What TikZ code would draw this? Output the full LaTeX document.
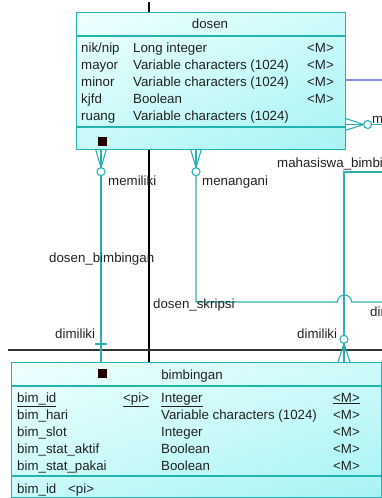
\documentclass[tikz,border=0pt]{standalone}
\usepackage{fontspec}
\usetikzlibrary{shadings}
\setmainfont{Liberation Sans}
\definecolor{boxc}{HTML}{22B5B0}
\definecolor{relc}{HTML}{2AB0B0}
\definecolor{txtc}{HTML}{222222}
\definecolor{bluel}{HTML}{8888F8}
\definecolor{keyc}{HTML}{220000}
\definecolor{shUL}{HTML}{F0FFFF}
\definecolor{shUR}{HTML}{CDFAFA}
\definecolor{shLL}{HTML}{C8F9F9}
\definecolor{shLR}{HTML}{A8F3F3}
\begin{document}
\begin{tikzpicture}[x=1pt,y=-1pt,
  font=\fontsize{13.3}{15}\selectfont,
  entity/.style={draw=boxc, line width=1.3pt, inner sep=0pt, anchor=north west,
    upper left=shUL, upper right=shUR, lower left=shLL, lower right=shLR},
  sep/.style={draw=boxc, line width=1.3pt},
  rel/.style={draw=relc, line width=1.1pt},
  lbl/.style={inner sep=0pt, anchor=mid west, text=txtc, yshift=-2.5pt},
  ttl/.style={inner sep=0pt, anchor=mid, text=txtc, yshift=-2.5pt},
  keysq/.style={fill=keyc, draw=none, minimum size=9pt, inner sep=0pt}]
\useasboundingbox (0,0) rectangle (382,498);

% background lines
\coordinate (vt) at (149,2);
\coordinate (vb) at (149,362);
\draw[black, line width=1.3pt] (vt) -- (vb);
\coordinate (hl) at (8,350);
\coordinate (hr) at (382,350);
\draw[black!80, line width=1.2pt] (hl) -- (hr);
\coordinate (bl1) at (345,80);
\coordinate (bl2) at (382,80);
\draw[bluel, line width=1.1pt] (bl1) -- (bl2);

% entity dosen
\node[entity, minimum width=269pt, minimum height=137pt] (dosen) at (76,12) {};
\draw[sep] ([yshift=-24pt]dosen.north west) -- ([yshift=-24pt]dosen.north east);
\draw[sep] ([yshift=-115pt]dosen.north west) -- ([yshift=-115pt]dosen.north east);
\node[ttl] (dtitle) at (210,23) {dosen};
\node[keysq] (dkey) at (102,141) {};
\node[lbl] (dn1) at (81,47) {nik/nip};
\node[lbl] (dt1) at (133,47) {Long integer};
\node[lbl] (dm1) at (307,47) {<M>};
\node[lbl] (dn2) at (81,64) {mayor};
\node[lbl] (dt2) at (133,64) {Variable characters (1024)};
\node[lbl] (dm2) at (307,64) {<M>};
\node[lbl] (dn3) at (81,81) {minor};
\node[lbl] (dt3) at (133,81) {Variable characters (1024)};
\node[lbl] (dm3) at (307,81) {<M>};
\node[lbl] (dn4) at (81,98) {kjfd};
\node[lbl] (dt4) at (133,98) {Boolean};
\node[lbl] (dm4) at (307,98) {<M>};
\node[lbl] (dn5) at (81,115) {ruang};
\node[lbl] (dt5) at (133,115) {Variable characters (1024)};

% entity bimbingan
\node[entity, minimum width=370pt, minimum height=135pt] (bim) at (11,362) {};
\draw[sep] ([yshift=-24pt]bim.north west) -- ([yshift=-24pt]bim.north east);
\draw[sep] ([yshift=-114pt]bim.north west) -- ([yshift=-114pt]bim.north east);
\node[ttl] (btitle) at (192,374) {bimbingan};
\node[keysq] (bkey) at (102,373.5) {};
\node[lbl] (bn1) at (17,397) {\underline{bim\_id}};
\node[lbl] (bp1) at (123,397) {\underline{<pi>}};
\node[lbl] (bt1) at (161,397) {\underline{Integer}};
\node[lbl] (bm1) at (333,397) {\underline{<M>}};
\node[lbl] (bn2) at (17,414) {bim\_hari};
\node[lbl] (bt2) at (161,414) {Variable characters (1024)};
\node[lbl] (bm2) at (333,414) {<M>};
\node[lbl] (bn3) at (17,431) {bim\_slot};
\node[lbl] (bt3) at (161,431) {Integer};
\node[lbl] (bm3) at (333,431) {<M>};
\node[lbl] (bn4) at (17,448) {bim\_stat\_aktif};
\node[lbl] (bt4) at (161,448) {Boolean};
\node[lbl] (bm4) at (333,448) {<M>};
\node[lbl] (bn5) at (17,465) {bim\_stat\_pakai};
\node[lbl] (bt5) at (161,465) {Boolean};
\node[lbl] (bm5) at (333,465) {<M>};
\node[lbl] (bk1) at (17,488) {bim\_id};
\node[lbl] (bk2) at (68,488) {<pi>};

% relationship dosen_bimbingan
\coordinate (a0) at (101,149);
\coordinate (aL) at (95.5,149);
\coordinate (aR) at (106.5,149);
\coordinate (aT) at (101,167.7);
\coordinate (aC) at (101,171.7);
\coordinate (aB) at (101,175.7);
\coordinate (aE) at (101,362);
\coordinate (x1) at (95,344);
\coordinate (x2) at (107,344);
\draw[rel] (aL) -- (aT) -- (aR);
\draw[rel] (a0) -- (aT);
\draw[rel] (aB) -- (aE);
\draw[rel] (x1) -- (x2);
\draw[rel, fill=white] (aC) circle[radius=4];

% relationship dosen_skripsi
\coordinate (s0) at (196,149);
\coordinate (sL) at (190.5,149);
\coordinate (sR) at (201.5,149);
\coordinate (sT) at (196,167.7);
\coordinate (sC) at (196,171.7);
\coordinate (sB) at (196,175.7);
\coordinate (sK) at (196,302);
\coordinate (sH) at (337.5,302);
\coordinate (sE) at (382,302);
\draw[rel] (sL) -- (sT) -- (sR);
\draw[rel] (s0) -- (sT);
\draw[rel] (sB) -- (sK) -- (sH) arc[start angle=180, end angle=360, radius=7] -- (sE);
\draw[rel, fill=white] (sC) circle[radius=4];

% relationship mahasiswa_bimbingan
\coordinate (m0) at (382,172);
\coordinate (mK) at (344,172);
\coordinate (mT) at (344,335.3);
\coordinate (mC) at (344,339.3);
\coordinate (mF) at (344,343.3);
\coordinate (mL) at (338,362);
\coordinate (mM) at (344,362);
\coordinate (mR) at (350,362);
\draw[rel] (m0) -- (mK) -- (mT);
\draw[rel] (mL) -- (mF) -- (mR);
\draw[rel] (mF) -- (mM);
\draw[rel, fill=white] (mC) circle[radius=4];

% relationship to the right
\coordinate (r0) at (345,124.5);
\coordinate (rU) at (345,118.3);
\coordinate (rD) at (345,130.5);
\coordinate (rT) at (363.7,124.5);
\coordinate (rC) at (367.7,124.5);
\coordinate (rB) at (371.7,124.5);
\coordinate (rE) at (382,124.5);
\draw[rel] (rU) -- (rT) -- (rD);
\draw[rel] (r0) -- (rT);
\draw[rel] (rB) -- (rE);
\draw[rel, fill=white] (rC) circle[radius=4];

% labels
\node[lbl] (l1) at (108,180) {memiliki};
\node[lbl] (l2) at (202,180) {menangani};
\node[lbl] (l3) at (49,257) {dosen\_bimbingan};
\node[lbl] (l4) at (55,333) {dimiliki};
\node[lbl] (l5) at (153,303) {dosen\_skripsi};
\node[lbl] (l6) at (277,162) {mahasiswa\_bimbingan};
\node[lbl] (l7) at (297,333) {dimiliki};
\node[lbl] (l8) at (370,311) {dimiliki};
\node[lbl] (l9) at (372,118) {memiliki};
\end{tikzpicture}
\end{document}
